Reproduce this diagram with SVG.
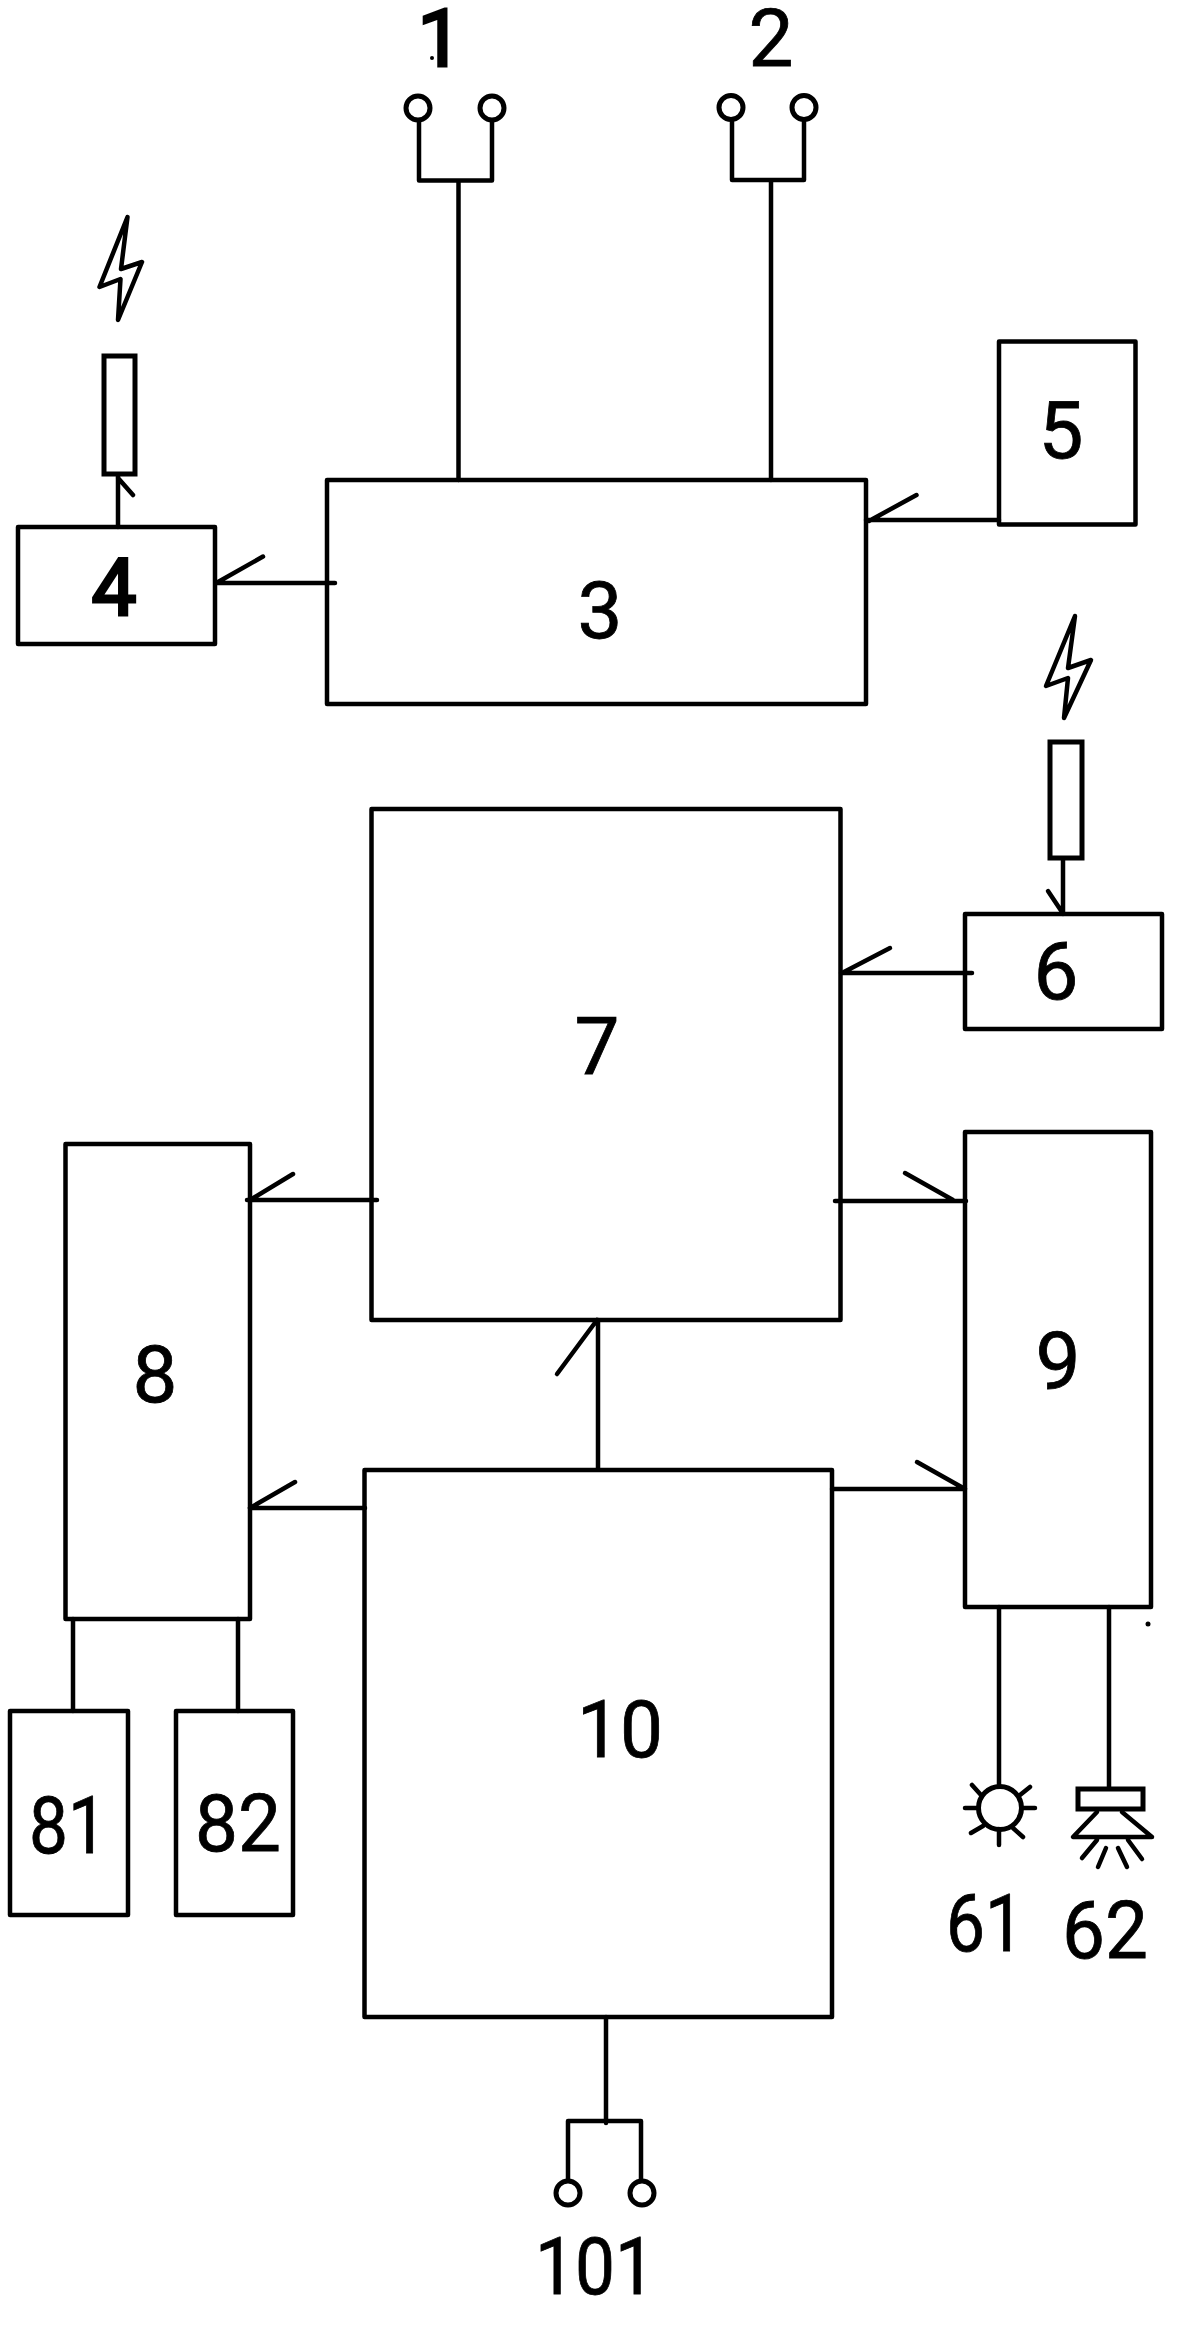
<svg xmlns="http://www.w3.org/2000/svg" width="1177" height="2330" viewBox="0 0 1177 2330">
<style>
.b{fill:none;stroke:#000;stroke-width:4.500;stroke-linejoin:round}
.w{fill:#fff;stroke:#000;stroke-width:5}
.l{fill:none;stroke:#000;stroke-width:4.500;stroke-linecap:round;stroke-linejoin:round}
.t{font-family:Roboto,"Liberation Sans",Arial,sans-serif;font-size:80px;fill:#000;stroke:#000;stroke-width:.8px;text-anchor:middle}
.h{stroke-width:3px}
</style>
<rect width="1177" height="2330" fill="#fff"/>
<g id="connectors" class="l">
<path d="M458.500 181V480M419 122V180.500H492V122"/>
<path d="M771 181V480M732 122V180H804V122"/>
<path d="M999 520H866M869 521L916.500 495"/>
<path d="M335 583H217M218 582L263 556.500"/>
<path d="M118 527V474M118 478L133 495"/>
<path d="M1063 858V914M1048 891L1062 912"/>
<path d="M972 973H841M842 973L890 948"/>
<path d="M377 1200H247M250 1200L293 1174"/>
<path d="M835 1201H966M905 1173L953 1200"/>
<path d="M598 1469V1320M597 1320L557 1374"/>
<path d="M365 1508H250M250 1508L295 1482"/>
<path d="M832 1489H965M917 1462L965 1489"/>
<path d="M73 1619V1711M238 1619V1711"/>
<path d="M999 1607V1785M1109 1607V1788"/>
<path d="M606 2017V2123M568 2180V2121H641V2180"/>
</g>
<g id="node-1"><circle class="w" cx="418" cy="108" r="12"/><circle class="w" cx="492" cy="108" r="12"/><text class="t h" x="440" y="66">1</text><circle cx="432" cy="58" r="2"/></g>
<g id="node-2"><circle class="w" cx="731" cy="107.500" r="12"/><circle class="w" cx="804" cy="107.500" r="12"/><text class="t" x="771" y="66">2</text></g>
<g id="node-3"><rect class="b" x="327" y="480" width="539" height="224"/><text class="t" x="600" y="638">3</text></g>
<g id="node-4"><rect class="b" x="18" y="527" width="197" height="117"/><text class="t h" x="114" y="615">4</text>
<rect class="w" x="104" y="356" width="31" height="118"/><path class="l" d="M127.500 217L99.500 287L120.500 279L118 320L142 262L121 269Z"/></g>
<g id="node-5"><rect class="b" x="999" y="341.500" width="136.500" height="183"/><text class="t" x="1061" y="458">5</text></g>
<g id="node-6"><rect class="b" x="965" y="914" width="197" height="115"/><text class="t" x="1056" y="999">6</text>
<rect class="w" x="1050" y="742" width="32" height="116"/><path class="l" d="M1075 616L1046 686L1068 678L1064 718L1091 660L1068 668Z"/></g>
<g id="node-7"><rect class="b" x="371.500" y="809" width="469" height="511"/><text class="t" x="597" y="1074">7</text></g>
<g id="node-8"><rect class="b" x="65.500" y="1144" width="184.500" height="475"/><text class="t" x="155" y="1402">8</text></g>
<g id="node-81"><rect class="b" x="10" y="1711" width="118" height="204"/><text class="t" x="68" y="1853" textLength="78" lengthAdjust="spacingAndGlyphs">81</text></g>
<g id="node-82"><rect class="b" x="176" y="1711" width="117" height="204"/><text class="t" x="238" y="1851" textLength="86" lengthAdjust="spacingAndGlyphs">82</text></g>
<g id="node-9"><rect class="b" x="965" y="1132" width="186" height="475"/><text class="t" x="1058" y="1389">9</text><circle cx="1148" cy="1624" r="2.500"/></g>
<g id="node-10"><rect class="b" x="364.500" y="1470" width="467.500" height="547"/><text class="t" x="620" y="1757" textLength="86" lengthAdjust="spacingAndGlyphs">10</text></g>
<g id="node-61"><circle class="w" cx="1000" cy="1808" r="21.500"/><path class="l" d="M965 1808H977M1023 1808H1035M999 1829V1845M972 1785L981 1795M1030 1787L1020 1795M971 1833L983 1826M1023 1837L1013 1828"/><text class="t" x="985" y="1951" textLength="78" lengthAdjust="spacingAndGlyphs">61</text></g>
<g id="node-62"><rect class="w" x="1078" y="1789" width="65" height="20"/><path class="l" d="M1097 1812L1073 1837H1152L1122 1812M1097 1840L1082 1858M1106 1848L1098 1867M1118 1848L1127 1867M1128 1840L1142 1859"/><text class="t" x="1105" y="1958" textLength="86" lengthAdjust="spacingAndGlyphs">62</text></g>
<g id="node-101"><circle class="w" cx="568" cy="2193" r="12"/><circle class="w" cx="642" cy="2193" r="12"/><text class="t" x="595" y="2294" textLength="120" lengthAdjust="spacingAndGlyphs">101</text></g>
</svg>
